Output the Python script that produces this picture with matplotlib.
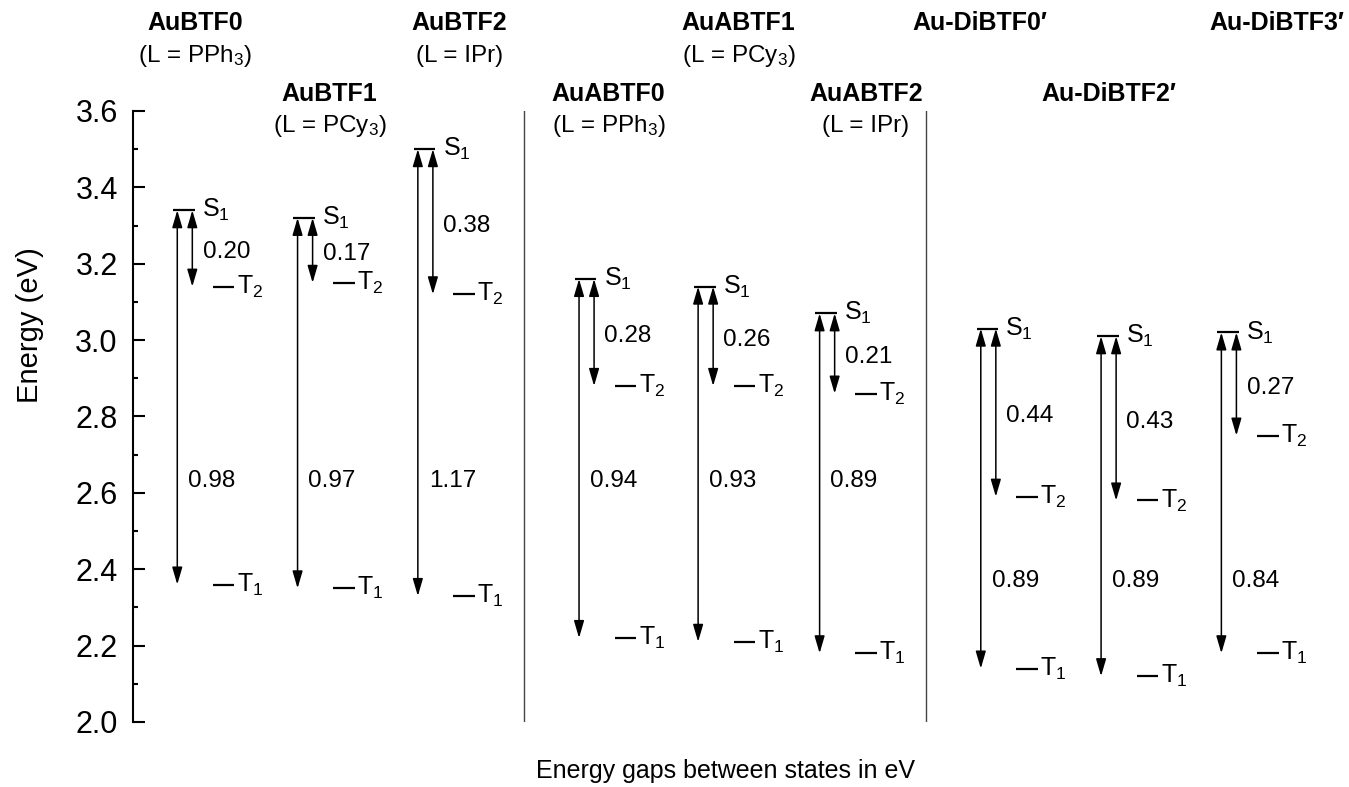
import numpy as np
import matplotlib
matplotlib.use("Agg")
import matplotlib.pyplot as plt

plt.rcParams['font.family'] = ['Liberation Sans', 'DejaVu Sans']
plt.rcParams['mathtext.fontset'] = 'custom'
plt.rcParams['mathtext.rm'] = 'Liberation Sans'
plt.rcParams['mathtext.default'] = 'regular'

# data (eV)
names = ['AuBTF0', 'AuBTF1', 'AuBTF2', 'AuABTF0', 'AuABTF1', 'AuABTF2',
         'Au-DiBTF0\u2032', 'Au-DiBTF2\u2032', 'Au-DiBTF3\u2032']
ligands = ['PPh$_3$', 'PCy$_3$', 'IPr', 'PPh$_3$', 'PCy$_3$', 'IPr', None, None, None]
s1 = [3.34, 3.32, 3.50, 3.16, 3.14, 3.07, 3.03, 3.01, 3.02]
t2 = [3.14, 3.15, 3.12, 2.88, 2.88, 2.86, 2.59, 2.58, 2.75]
t1 = [2.36, 2.35, 2.33, 2.22, 2.21, 2.18, 2.14, 2.12, 2.18]
gap_s1t2 = ['0.20', '0.17', '0.38', '0.28', '0.26', '0.21', '0.44', '0.43', '0.27']
gap_s1t1 = ['0.98', '0.97', '1.17', '0.94', '0.93', '0.89', '0.89', '0.89', '0.84']

# layout
xpos = [0, 1, 2, 3.34, 4.33, 5.34, 6.68, 7.68, 8.68]
dividers = [2.92, 6.26]
head_row = [0, 1, 0, 1, 0, 1, 0, 1, 0]
head_dx = [0.18, 0.30, 0.38, 0.28, 0.37, 0.42, 0.03, 0.10, 0.50]
long_lab_y = [2.63, 2.63, 2.63, 2.63, 2.63, 2.63, 2.37, 2.37, 2.37]

fig = plt.figure(figsize=(13.49, 7.87), dpi=100)
ax = fig.add_axes([0.0986, 0.0826, 0.8964, 0.7764])
ax.set_xlim(-0.333, 9.72)
ax.set_ylim(2.0, 3.6)

fs = 17.5
arrow = dict(arrowstyle='<|-|>,head_length=0.75,head_width=0.22', color='black',
             lw=1.1, shrinkA=0, shrinkB=0, mutation_scale=14)

for i, x in enumerate(xpos):
    # levels
    ax.plot([x, x + 0.18], [s1[i], s1[i]], color='black', lw=1.6, solid_capstyle='butt')
    ax.plot([x + 0.33, x + 0.51], [t2[i], t2[i]], color='black', lw=1.6, solid_capstyle='butt')
    ax.plot([x + 0.33, x + 0.51], [t1[i], t1[i]], color='black', lw=1.6, solid_capstyle='butt')
    ax.text(x + 0.24, s1[i], 'S$_1$', fontsize=18, ha='left', va='center')
    ax.text(x + 0.53, t2[i], 'T$_2$', fontsize=18, ha='left', va='center')
    ax.text(x + 0.53, t1[i], 'T$_1$', fontsize=18, ha='left', va='center')
    # arrows
    ax.annotate('', xy=(x + 0.035, t1[i]), xytext=(x + 0.035, s1[i]), arrowprops=arrow)
    ax.annotate('', xy=(x + 0.16, t2[i]), xytext=(x + 0.16, s1[i]), arrowprops=arrow)
    ax.text(x + 0.245, (s1[i] + t2[i]) / 2 - 0.01, gap_s1t2[i], fontsize=fs, ha='left', va='center')
    ax.text(x + 0.125, long_lab_y[i], gap_s1t1[i], fontsize=fs, ha='left', va='center')
    # headers
    yb = 3.83 if head_row[i] == 0 else 3.645
    ax.text(x + head_dx[i], yb, names[i], fontsize=18, fontweight='bold',
            ha='center', va='center', clip_on=False)
    if ligands[i]:
        ax.text(x + head_dx[i], yb - 0.085, '(L = ' + ligands[i] + ')', fontsize=fs,
                ha='center', va='center', clip_on=False)

for d in dividers:
    ax.plot([d, d], [2.0, 3.6], color='#444444', lw=1.0)

ax.spines['top'].set_visible(False)
ax.spines['right'].set_visible(False)
ax.spines['bottom'].set_visible(False)
ax.spines['left'].set_linewidth(1.5)
ax.set_xticks([])
ax.set_yticks(np.arange(2.0, 3.61, 0.2))
ax.set_yticks(np.arange(2.1, 3.6, 0.2), minor=True)
ax.yaxis.set_major_formatter(matplotlib.ticker.FormatStrFormatter('%.1f'))
ax.tick_params(axis='y', which='major', direction='in', length=8.6, width=1.5,
               labelsize=22, pad=11)
ax.tick_params(axis='y', which='minor', direction='in', length=3.8, width=1.5)

ax.set_ylabel('Energy (eV)', fontsize=21)
ax.yaxis.set_label_coords(-0.074, 0.65)
ax.set_xlabel('Energy gaps between states in eV', fontsize=18)
ax.xaxis.set_label_coords(0.49, -0.06)

fig.savefig('out.png', dpi=100)
